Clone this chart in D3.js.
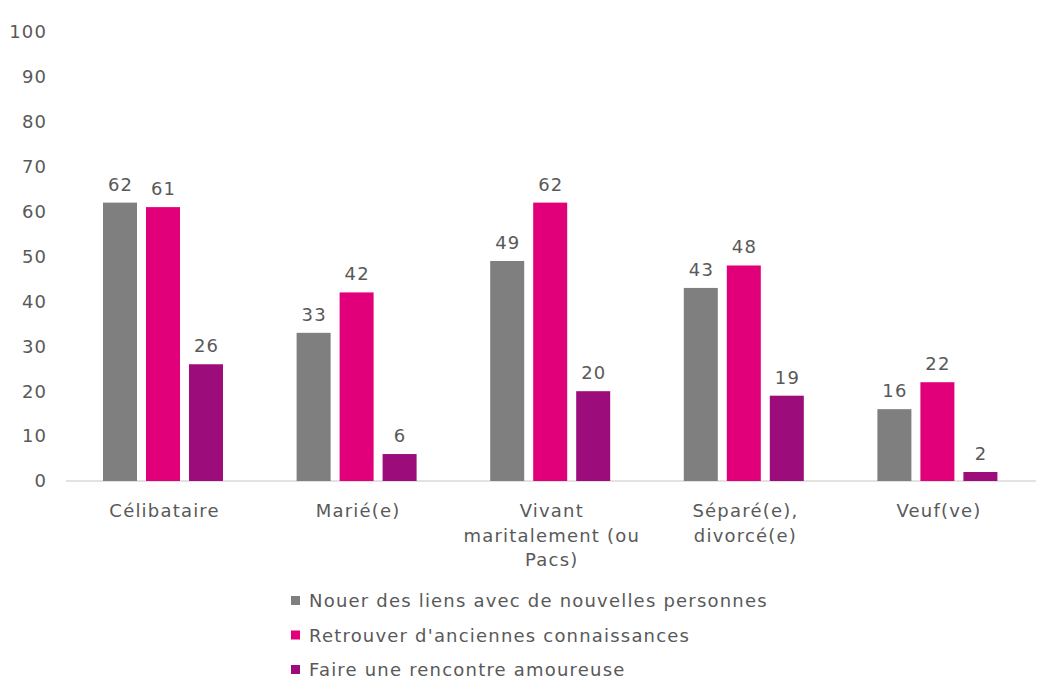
<!DOCTYPE html>
<html><head><meta charset="utf-8">
<script src="https://cdn.jsdelivr.net/npm/d3@7"></script>
<style>
body{margin:0;background:#fff;}
text{font-family:"DejaVu Sans",Verdana,sans-serif;fill:#595959;font-size:18px;letter-spacing:1.2px;}
</style></head>
<body><svg id="c" width="1038" height="680"></svg>
<script>
const categories = [["Célibataire"],["Marié(e)"],["Vivant","maritalement (ou","Pacs)"],["Séparé(e),","divorcé(e)"],["Veuf(ve)"]];
const seriesNames = ["Nouer des liens avec de nouvelles personnes","Retrouver d'anciennes connaissances","Faire une rencontre amoureuse"];
const nouer = [62,33,49,43,16];
const retrouver = [61,42,62,48,22];
const rencontre = [26,6,20,19,2];
const yTicks = [0,10,20,30,40,50,60,70,80,90,100];
const colors = ["#7f7f7f","#e2007a","#9c0c7a"];

const series = [nouer, retrouver, rencontre];
const svg = d3.select("#c");
const x = d3.scaleBand().domain(d3.range(categories.length)).range([68,1036]).paddingInner(0).paddingOuter(0);
const y = d3.scaleLinear().domain([0,100]).range([481,32]);
const inner = d3.scaleBand().domain([0,1,2]).range([35,155]).paddingInner(9/43);
const LS = 1.2; // trailing letter-spacing compensation

// y tick labels
svg.append("g").selectAll("text").data(yTicks).join("text")
  .attr("x",46+LS).attr("y",d=>y(d)).attr("dy","0.35em").attr("text-anchor","end").text(d=>d);

// baseline
svg.append("line").attr("x1",66).attr("x2",1036).attr("y1",y(0)).attr("y2",y(0))
  .attr("stroke","#d9d9d9").attr("stroke-width",1.5);

const g = svg.append("g").selectAll("g").data(categories).join("g")
  .attr("transform",(d,i)=>`translate(${x(i)},0)`);

series.forEach((s,si)=>{
  g.append("rect")
    .attr("x",inner(si)).attr("width",inner.bandwidth())
    .attr("y",(d,i)=>y(s[i])).attr("height",(d,i)=>y(0)-y(s[i]))
    .attr("fill",colors[si]);
  g.append("text")
    .attr("x",inner(si)+inner.bandwidth()/2+LS/2).attr("y",(d,i)=>y(s[i])-12)
    .attr("text-anchor","middle").text((d,i)=>s[i]);
});

// category labels
const cx = 97 + LS/2 - 1;
g.append("text").attr("text-anchor","middle").attr("x",cx)
  .each(function(d){
    d3.select(this).selectAll("tspan").data(d).join("tspan")
      .attr("x",cx).attr("y",(t,j)=>517+j*24.5).text(t=>t);
  });

// legend
const lg = svg.append("g").selectAll("g").data(seriesNames).join("g")
  .attr("transform",(d,i)=>`translate(291,${601+i*34.5})`);
lg.append("rect").attr("x",0).attr("y",-5).attr("width",9).attr("height",9).attr("fill",(d,i)=>colors[i]);
lg.append("text").attr("x",18).attr("dy","0.35em").text(d=>d);
</script></body></html>
